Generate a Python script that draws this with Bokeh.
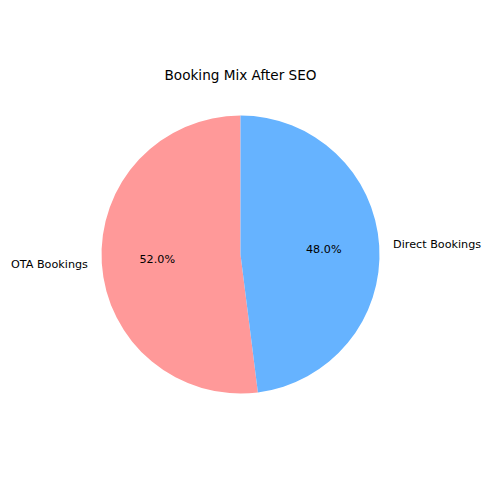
import math
from bokeh.plotting import figure
from bokeh.models import Range1d, ColumnDataSource
from bokeh.core.properties import value
from bokeh.embed import file_html
from bokeh.resources import INLINE

# Data
categories = ["OTA Bookings", "Direct Bookings"]
shares = [52.0, 48.0]
colors = ["#ff9999", "#66b3ff"]
title_text = "Booking Mix After SEO"

# Layout (pixel geometry mapped to unit-radius data space)
W = H = 482
R_PX = 139.0
CX, CY = 240.0, 254.0  # pie centre in picture pixels
OFF = 0.0

x0 = (OFF - CX) / R_PX
x1 = (OFF + W - CX) / R_PX
y1 = (CY - OFF) / R_PX
y0 = (CY - OFF - H) / R_PX

p = figure(width=W, height=H, output_backend="svg", toolbar_location=None,
           x_range=Range1d(x0, x1), y_range=Range1d(y0, y1),
           min_border=0, outline_line_color=None)
p.axis.visible = False
p.grid.visible = False
p.background_fill_color = "white"
p.border_fill_color = "white"

total = sum(shares)
start = math.pi / 2
starts, ends, mids = [], [], []
for s in shares:
    a = 2 * math.pi * s / total
    starts.append(start)
    ends.append(start + a)
    mids.append(start + a / 2)
    start += a

src = ColumnDataSource(dict(start=starts, end=ends, color=colors))
p.wedge(x=0, y=0, radius=1.0, start_angle="start", end_angle="end",
        fill_color="color", line_color=None, source=src)

font = value("DejaVu Sans")
# category labels
lx = [1.1 * math.cos(m) for m in mids]
ly = [1.1 * math.sin(m) for m in mids]
align = ["right" if x < 0 else "left" for x in lx]
p.text(x=lx, y=ly, text=categories, text_align=align, text_baseline="middle",
       text_font=font, text_font_size="11.2px", text_color="black")
# percentage labels
px_ = [0.6 * math.cos(m) for m in mids]
py_ = [0.6 * math.sin(m) for m in mids]
p.text(x=px_, y=py_, text=["%.1f%%" % s for s in shares], text_align="center",
       text_baseline="middle", text_font=font, text_font_size="11.2px",
       text_color="black")
# title
p.text(x=[0], y=[(CY - 74) / R_PX], text=[title_text], text_align="center",
       text_baseline="alphabetic", text_font=font, text_font_size="13.6px",
       text_color="black")

open("out.html", "w").write(file_html(p, INLINE))
